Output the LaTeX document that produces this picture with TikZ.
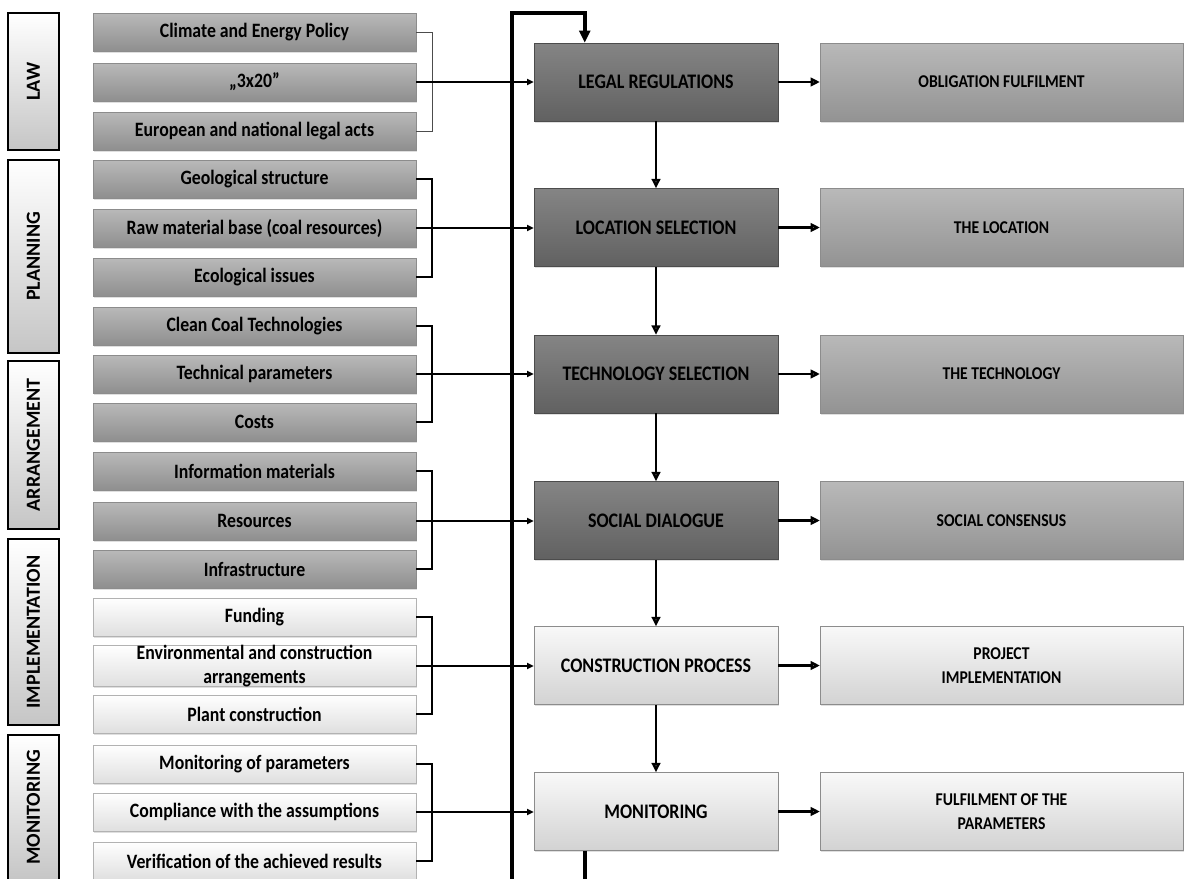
\documentclass[tikz,border=0pt]{standalone}
\usepackage{fontspec}
\setmainfont{Carlito}
\newfontfamily\narrowfont{Carlito}[FakeStretch=0.87]
\usetikzlibrary{arrows.meta,shadows}

\tikzset{
  item/.style={draw=gray!90, top color=gray!55, bottom color=gray!88,
    minimum width=242pt, minimum height=28.5pt, inner sep=0pt, align=center,
    font=\narrowfont\bfseries\fontsize{15.3}{17.5}\selectfont,
    drop shadow={opacity=0.25, shadow xshift=0.8pt, shadow yshift=-1.2pt}},
  itemlight/.style={item, draw=gray!60, top color=white, bottom color=gray!25},
  stage/.style={draw=black!70, top color=black!48, bottom color=black!62,
    minimum width=183pt, minimum height=58.5pt, inner sep=0pt, align=center,
    font=\narrowfont\bfseries\fontsize{15.5}{18.5}\selectfont,
    drop shadow={opacity=0.25, shadow xshift=0.8pt, shadow yshift=-1.2pt}},
  stagelight/.style={stage, draw=gray!90, top color=gray!5, bottom color=gray!35},
  result/.style={stage, draw=gray!90, top color=gray!55, bottom color=gray!85,
    minimum width=272pt, font=\narrowfont\bfseries\fontsize{13.5}{18.5}\selectfont},
  resultlight/.style={result, top color=gray!5, bottom color=gray!35},
  phase/.style={draw=black, line width=1.2pt, rotate=90, top color=white,
    bottom color=gray!45, minimum height=38pt, inner sep=0pt,
    font=\bfseries\fontsize{15}{15}\selectfont},
  brace/.style={line width=1.9pt},
  thinbrace/.style={line width=0.6pt, draw=black!70},
  feed/.style={line width=1.9pt, -{Triangle[length=5pt,width=4.5pt]}},
  flow/.style={line width=1.9pt, -{Triangle[length=7pt,width=6.5pt,fill=black!60]}},
  back/.style={line width=2.8pt, -{Triangle[length=9pt,width=8pt]}}
}

\begin{document}
\begin{tikzpicture}[x=0.75pt,y=-0.75pt]
\useasboundingbox (0,0) rectangle (1192,878);
\clip (0,0) rectangle (1192,878);

% phases
\node[phase, minimum width=102.75pt] (law) at (33.5,81.5) {LAW};
\node[phase, minimum width=144.75pt] (planning) at (33.5,256.5) {PLANNING};
\node[phase, minimum width=126pt] (arrangement) at (33.5,445) {ARRANGEMENT};
\node[phase, minimum width=139.5pt] (implementation) at (33.5,632) {IMPLEMENTATION};
\node[phase, minimum width=108.75pt] (monit) at (33.5,807.5) {MONITORING};

% factors
\node[item] (climate) at (254.5,32) {Climate and Energy Policy};
\node[item] (threex) at (254.5,82) {„3x20”};
\node[item] (european) at (254.5,131) {European and national legal acts};
\node[item] (geo) at (254.5,179) {Geological structure};
\node[item] (raw) at (254.5,228) {Raw material base (coal resources)};
\node[item] (eco) at (254.5,277) {Ecological issues};
\node[item] (ccoal) at (254.5,326) {Clean Coal Technologies};
\node[item] (techpar) at (254.5,374) {Technical parameters};
\node[item] (costs) at (254.5,422) {Costs};
\node[item] (info) at (254.5,471) {Information materials};
\node[item] (resources) at (254.5,521) {Resources};
\node[item] (infra) at (254.5,569) {Infrastructure};
\node[itemlight] (funding) at (254.5,617) {Funding};
\node[itemlight] (envir) at (254.5,666) {Environmental and construction\\arrangements};
\node[itemlight] (plant) at (254.5,714) {Plant construction};
\node[itemlight] (monpar) at (254.5,764) {Monitoring of parameters};
\node[itemlight] (compl) at (254.5,812) {Compliance with the assumptions};
\node[itemlight] (verif) at (254.5,861) {Verification of the achieved results};

% stages
\node[stage] (legal) at (656,82) {LEGAL REGULATIONS};
\node[stage] (location) at (656,227.5) {LOCATION SELECTION};
\node[stage] (technology) at (656,374) {TECHNOLOGY SELECTION};
\node[stage] (social) at (656,520.5) {SOCIAL DIALOGUE};
\node[stagelight] (construction) at (656,665.5) {CONSTRUCTION PROCESS};
\node[stagelight] (monitoring) at (656,811.5) {MONITORING};

% results
\node[result] (obligation) at (1001.5,82) {OBLIGATION FULFILMENT};
\node[result] (thelocation) at (1001.5,227.5) {THE LOCATION};
\node[result] (thetechnology) at (1001.5,374) {THE TECHNOLOGY};
\node[result] (consensus) at (1001.5,520.5) {SOCIAL CONSENSUS};
\node[resultlight] (project) at (1001.5,665.5) {PROJECT\\IMPLEMENTATION};
\node[resultlight] (fulfil) at (1001.5,811.5) {FULFILMENT OF THE\\PARAMETERS};

% brackets
\draw[thinbrace] (climate.east) -- ++(16,0) |- (european.east);
\draw[brace] (geo.east) -- ++(16,0) |- (eco.east);
\draw[brace] (ccoal.east) -- ++(16,0) |- (costs.east);
\draw[brace] (info.east) -- ++(16,0) |- (infra.east);
\draw[brace] (funding.east) -- ++(16,0) |- (plant.east);
\draw[brace] (monpar.east) -- ++(16,0) |- (verif.east);

% feedback loop
\draw[back] ([xshift=38.25pt]monitoring.south west) -- ++(0,40) -| (512,13)
  -| ([xshift=38.25pt]legal.north west);

% inputs
\draw[feed] (threex.east) -- (threex.east -| legal.west);
\draw[feed] (raw.east) -- (raw.east -| location.west);
\draw[feed] (techpar.east) -- (techpar.east -| technology.west);
\draw[feed] (resources.east) -- (resources.east -| social.west);
\draw[feed] (envir.east) -- (envir.east -| construction.west);
\draw[feed] (compl.east) -- (compl.east -| monitoring.west);

% sequence
\draw[flow] (legal) -- (location);
\draw[flow] (location) -- (technology);
\draw[flow] (technology) -- (social);
\draw[flow] (social) -- (construction);
\draw[flow] (construction) -- (monitoring);

% outcomes
\draw[flow] (legal) -- (obligation);
\draw[flow] (location) -- (thelocation);
\draw[flow] (technology) -- (thetechnology);
\draw[flow] (social) -- (consensus);
\draw[flow] (construction) -- (project);
\draw[flow] (monitoring) -- (fulfil);

\end{tikzpicture}
\end{document}
